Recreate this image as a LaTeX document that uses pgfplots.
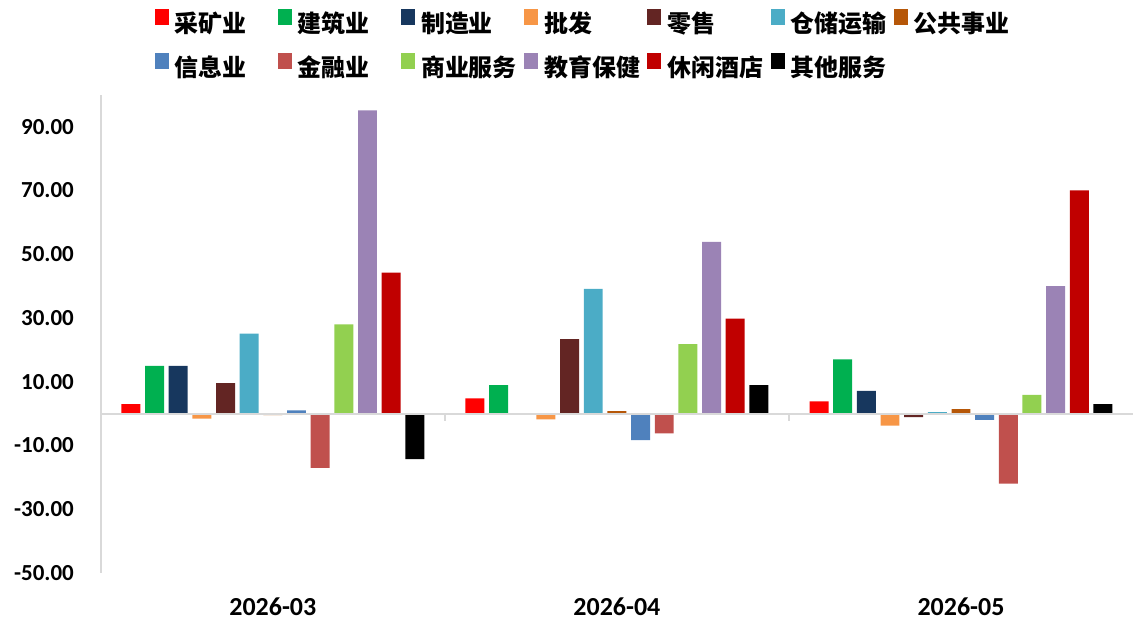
\documentclass[border=0pt]{standalone}
\usepackage{pgfplots}
\pgfplotsset{compat=1.18}
\usepackage{pgfplotstable}
\usepackage{fontspec}
\setmainfont{Carlito}
\newfontfamily\cjk{Noto Sans CJK SC}

\definecolor{cA}{HTML}{FF0000}
\definecolor{cB}{HTML}{00B050}
\definecolor{cC}{HTML}{17375E}
\definecolor{cD}{HTML}{F79646}
\definecolor{cE}{HTML}{632523}
\definecolor{cF}{HTML}{4BACC6}
\definecolor{cG}{HTML}{B65708}
\definecolor{cH}{HTML}{4F81BD}
\definecolor{cI}{HTML}{C0504D}
\definecolor{cJ}{HTML}{92D050}
\definecolor{cK}{HTML}{9B83B5}
\definecolor{cL}{HTML}{C00000}
\definecolor{cM}{HTML}{000000}
\definecolor{axgray}{HTML}{D9D9D9}

% one row per month, one column per sector
\pgfplotstableread{
x  A    B     C     D     E     F     G     H     I      J     K     L     M
0  3.0  15.0  15.0  -1.6  9.6   25.1  -0.5  1.0   -17.0  28.0  95.1  44.2  -14.3
1  4.8  8.9   0.0   -1.8  23.4  39.1  0.8   -8.3  -6.2   21.8  53.9  29.8  8.9
2  3.8  17.0  7.1   -3.8  -1.1  0.5   1.4   -2.0  -22.0  5.9   40.0  70.0  3.0
}\datatable

\newcommand\legtxt[1]{\makebox[51.7pt][l]{\cjk\bfseries #1}}

\begin{document}
\begin{tikzpicture}
\begin{axis}[
    name=ax,
    scale only axis,
    width=517pt,
    height=239.5pt,
    ybar=2.35pt,
    bar width=9.5pt,
    xmin=-0.5, xmax=2.5,
    ymin=-50, ymax=100,
    ytick={-50,-30,...,90},
    xtick={0,1,2},
    xticklabels={2026-03,2026-04,2026-05},
    axis x line*=bottom,
    axis y line*=left,
    x axis line style={draw=none},
    y axis line style={draw=axgray, line width=1pt},
    major tick length=0pt,
    tick style={draw=none},
    y tick label style={font=\fontsize{11.5}{12}\selectfont\bfseries, xshift=-10pt,
        /pgf/number format/.cd, fixed, fixed zerofill, precision=2, assume math mode=true},
    x tick label style={font=\fontsize{13}{14}\selectfont\bfseries, inner sep=0pt, yshift=-12pt},
    legend columns=7,
    legend style={draw=none, fill=none, inner sep=0pt, outer sep=0pt,
        at={(0,1)}, anchor=north west, xshift=27pt, yshift=43pt,
        font=\fontsize{12}{13}\selectfont,
        nodes={inner sep=0pt},
        /tikz/every even column/.append style={column sep=0pt},
        row sep=8.5pt},
    legend image code/.code={\fill[#1] (0pt,-0.5pt) rectangle (7pt,7.5pt); \path (10pt,0pt);},
]
\addplot[fill=cA, draw=none] table[x=x, y=A] {\datatable};
\addplot[fill=cB, draw=none] table[x=x, y=B] {\datatable};
\addplot[fill=cC, draw=none] table[x=x, y=C] {\datatable};
\addplot[fill=cD, draw=none] table[x=x, y=D] {\datatable};
\addplot[fill=cE, draw=none] table[x=x, y=E] {\datatable};
\addplot[fill=cF, draw=none] table[x=x, y=F] {\datatable};
\addplot[fill=cG, draw=none] table[x=x, y=G] {\datatable};
\addplot[fill=cH, draw=none] table[x=x, y=H] {\datatable};
\addplot[fill=cI, draw=none] table[x=x, y=I] {\datatable};
\addplot[fill=cJ, draw=none] table[x=x, y=J] {\datatable};
\addplot[fill=cK, draw=none] table[x=x, y=K] {\datatable};
\addplot[fill=cL, draw=none] table[x=x, y=L] {\datatable};
\addplot[fill=cM, draw=none] table[x=x, y=M] {\datatable};
\legend{\legtxt{采矿业},\legtxt{建筑业},\legtxt{制造业},\legtxt{批发},\legtxt{零售},\legtxt{仓储运输},\legtxt{公共事业},
        \legtxt{信息业},\legtxt{金融业},\legtxt{商业服务},\legtxt{教育保健},\legtxt{休闲酒店},\legtxt{其他服务}}
% zero line and group separators
\draw[axgray, line width=1pt] (axis cs:-0.5,0) -- (axis cs:2.5,0);
\draw[axgray, line width=1pt] (axis cs:0.5,0) -- ([yshift=-3.5pt]axis cs:0.5,0);
\draw[axgray, line width=1pt] (axis cs:1.5,0) -- ([yshift=-3.5pt]axis cs:1.5,0);
\end{axis}
\pgfresetboundingbox
\path ([xshift=-50.5pt,yshift=-24pt]ax.south west) rectangle ([xshift=1pt,yshift=47.5pt]ax.north east);
\end{tikzpicture}
\end{document}
